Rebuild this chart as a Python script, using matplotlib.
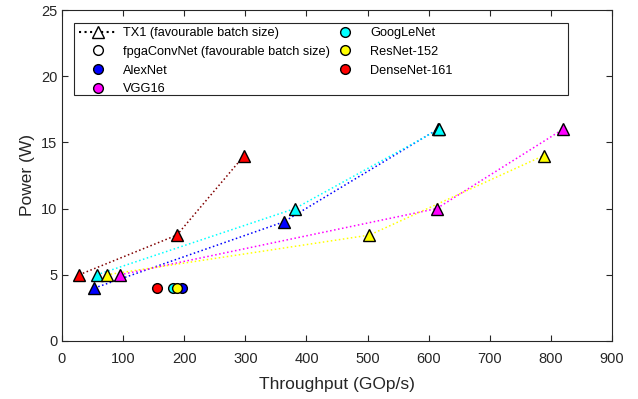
import matplotlib
matplotlib.use("Agg")
import matplotlib.pyplot as plt
from matplotlib.lines import Line2D
from matplotlib.patches import Rectangle

plt.rcParams['font.family'] = ['Liberation Sans', 'DejaVu Sans']

# TX1 measurements (favourable batch size)
networks = ['AlexNet', 'VGG16', 'GoogLeNet', 'ResNet-152', 'DenseNet-161']
colors = ['#0000ff', '#ff00ff', '#00ffff', '#ffff00', '#ff0000']
line_colors = ['#0000ff', '#ff00ff', '#00ffff', '#ffff00', '#800000']

tx1_throughput = {
    'AlexNet': [53, 363, 615],
    'VGG16': [95, 613, 820],
    'GoogLeNet': [57, 381, 617],
    'ResNet-152': [73, 503, 788],
    'DenseNet-161': [28, 188, 298],
}
tx1_power = {
    'AlexNet': [4, 9, 16],
    'VGG16': [5, 10, 16],
    'GoogLeNet': [5, 10, 16],
    'ResNet-152': [5, 8, 14],
    'DenseNet-161': [5, 8, 14],
}

# fpgaConvNet measurements
fpga_throughput = {'AlexNet': 196, 'GoogLeNet': 181, 'ResNet-152': 188, 'DenseNet-161': 155}
fpga_power = {'AlexNet': 4, 'GoogLeNet': 4, 'ResNet-152': 4, 'DenseNet-161': 4}

fig = plt.figure(figsize=(6.38, 3.99), dpi=100)
ax = fig.add_axes([62 / 638, 58 / 399, 550 / 638, 331 / 399])

for net, lc in zip(networks, line_colors):
    ax.plot(tx1_throughput[net], tx1_power[net], ':', color=lc, lw=1.1, zorder=2)
for net, c in zip(networks, colors):
    ax.plot(tx1_throughput[net], tx1_power[net], '^', ls='none', mfc=c, mec='black',
            mew=1.0, ms=8, zorder=3)

for net, c in zip(networks, colors):
    if net in fpga_throughput:
        ax.plot(fpga_throughput[net], fpga_power[net], 'o', mfc=c, mec='black',
                mew=1.0, ms=7, zorder=3)

ax.set_xlim(0, 900)
ax.set_ylim(0, 25)
ax.set_xticks(range(0, 901, 100))
ax.set_yticks(range(0, 26, 5))
ax.tick_params(direction='in', top=True, right=True, labelsize=10.5, length=4,
               color='#262626', labelcolor='#262626')
ax.tick_params(axis='x', pad=8)
for s in ax.spines.values():
    s.set_color('#262626')
    s.set_linewidth(0.8)
ax.set_xlabel('Throughput (GOp/s)', fontsize=12.5, color='#262626', labelpad=8)
ax.set_ylabel('Power (W)', fontsize=12.5, color='#262626')

# legend, MATLAB style: two columns inside a wide box
h1 = [
    Line2D([], [], ls=':', color='black', marker='^', mfc='white', mec='black', ms=8),
    Line2D([], [], ls='none', marker='o', mfc='white', mec='black', ms=7),
]
l1 = ['TX1 (favourable batch size)', 'fpgaConvNet (favourable batch size)']
h2, l2 = [], []
for net, c in zip(networks, colors):
    h = Line2D([], [], ls='none', marker='o', mfc=c, mec='black', ms=7)
    if net in ('AlexNet', 'VGG16'):
        h1.append(h)
        l1.append(net)
    else:
        h2.append(h)
        l2.append(net)

kw = dict(loc='upper left', fontsize=9.2, frameon=False, borderpad=0,
          borderaxespad=0, handlelength=3.0, handletextpad=0.45, labelspacing=0.52)
leg1 = ax.legend(h1, l1, bbox_to_anchor=(0.031, 0.948), **kw)
ax.add_artist(leg1)
ax.legend(h2, l2, bbox_to_anchor=(0.48, 0.948), **kw)

ax.add_patch(Rectangle((0.0218, 0.743), 0.898, 0.218, transform=ax.transAxes,
                       fill=False, ec='#262626', lw=0.8, zorder=5))

fig.savefig('out.png', dpi=100)
